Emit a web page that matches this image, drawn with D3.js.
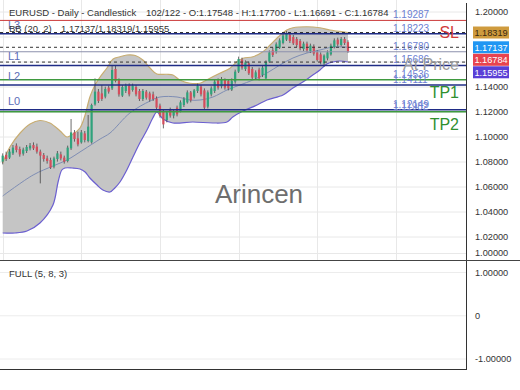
<!DOCTYPE html>
<html>
<head>
<meta charset="utf-8">
<script src="https://cdn.jsdelivr.net/npm/d3@7"></script>
<style>
  body { margin: 0; background: #fff; }
  svg { display: block; font-family: "Liberation Sans", Arial, sans-serif; }
</style>
</head>
<body>
<svg id="chart"></svg>
<script>
// daily EURUSD candles
var opens = [1.0799,1.0852,1.0831,1.0865,1.0927,1.0900,1.0863,1.0884,1.0905,1.0932,
  1.0919,1.0879,1.0852,1.0825,1.0812,1.0759,1.0820,1.0857,1.0831,1.0804,
  1.0905,1.1033,1.0985,1.0953,1.1025,1.0964,1.0953,1.1257,1.1359,1.1345,
  1.1319,1.1391,1.1385,1.1540,1.1452,1.1327,1.1364,1.1407,1.1372,1.1396,
  1.1364,1.1300,1.1359,1.1345,1.1337,1.1305,1.1247,1.1204,1.1132,1.1212,
  1.1167,1.1231,1.1204,1.1252,1.1273,1.1353,1.1319,1.1364,1.1399,1.1369,
  1.1239,1.1337,1.1364,1.1449,1.1401,1.1452,1.1444,1.1375,1.1439,1.1519,
  1.1615,1.1540,1.1585,1.1540,1.1471,1.1535,1.1492,1.1465,1.1599,1.1689,
  1.1679,1.1711,1.1748,1.1775,1.1812,1.1796,1.1780,1.1764,1.1700,1.1743,
  1.1684,1.1721,1.1673,1.1657,1.1585,1.1625,1.1657,1.1716,1.1775,1.1732,
  1.1780,1.17548];
var highs = [1.0865,1.0879,1.0900,1.0932,1.0945,1.0919,1.0911,1.0932,1.0948,1.0953,
  1.0943,1.0895,1.0868,1.0847,1.0831,1.0839,1.0884,1.0879,1.0847,1.0927,
  1.1140,1.1052,1.1039,1.1052,1.1044,1.1172,1.1263,1.1465,1.1380,1.1412,
  1.1399,1.1407,1.1572,1.1572,1.1465,1.1412,1.1423,1.1425,1.1423,1.1412,
  1.1380,1.1380,1.1372,1.1359,1.1359,1.1321,1.1263,1.1220,1.1204,1.1231,
  1.1220,1.1247,1.1289,1.1316,1.1369,1.1364,1.1380,1.1423,1.1412,1.1385,
  1.1369,1.1401,1.1455,1.1465,1.1476,1.1465,1.1460,1.1465,1.1535,1.1639,
  1.1631,1.1609,1.1599,1.1556,1.1529,1.1551,1.1567,1.1609,1.1689,1.1711,
  1.1753,1.1785,1.1823,1.1844,1.1828,1.1812,1.1796,1.1780,1.1759,1.1759,
  1.1743,1.1737,1.1689,1.1673,1.1657,1.1689,1.1743,1.1785,1.1791,1.1796,
  1.1796,1.17700];
var lows = [1.0777,1.0804,1.0820,1.0852,1.0873,1.0839,1.0847,1.0868,1.0889,1.0892,
  1.0863,1.0625,1.0799,1.0783,1.0740,1.0745,1.0799,1.0809,1.0783,1.0793,
  1.0892,1.0959,1.0921,1.0943,1.0953,1.0953,1.0943,1.1247,1.1268,1.1284,
  1.1305,1.1343,1.1372,1.1433,1.1319,1.1316,1.1348,1.1321,1.1359,1.1321,
  1.1284,1.1284,1.1295,1.1279,1.1284,1.1220,1.1151,1.1065,1.1113,1.1151,
  1.1145,1.1161,1.1193,1.1236,1.1263,1.1273,1.1305,1.1348,1.1321,1.1220,
  1.1225,1.1321,1.1348,1.1375,1.1385,1.1375,1.1369,1.1364,1.1423,1.1508,
  1.1535,1.1524,1.1492,1.1455,1.1455,1.1449,1.1476,1.1455,1.1588,1.1636,
  1.1663,1.1700,1.1737,1.1764,1.1748,1.1732,1.1716,1.1689,1.1684,1.1673,
  1.1668,1.1647,1.1599,1.1577,1.1559,1.1609,1.1647,1.1705,1.1721,1.1721,
  1.1732,1.16691];
var closes = [1.0847,1.0820,1.0879,1.0911,1.0892,1.0857,1.0895,1.0916,1.0927,1.0905,
  1.0879,1.0847,1.0820,1.0804,1.0751,1.0825,1.0865,1.0825,1.0799,1.0911,
  1.1033,1.0980,1.0937,1.1033,1.0972,1.1079,1.1252,1.1359,1.1284,1.1300,
  1.1380,1.1359,1.1532,1.1444,1.1337,1.1396,1.1407,1.1337,1.1407,1.1337,
  1.1300,1.1364,1.1311,1.1295,1.1300,1.1231,1.1167,1.1097,1.1193,1.1167,
  1.1204,1.1177,1.1273,1.1300,1.1353,1.1289,1.1369,1.1407,1.1337,1.1231,
  1.1353,1.1385,1.1439,1.1391,1.1460,1.1391,1.1385,1.1444,1.1519,1.1620,
  1.1551,1.1593,1.1505,1.1471,1.1513,1.1465,1.1551,1.1593,1.1673,1.1652,
  1.1737,1.1769,1.1807,1.1823,1.1764,1.1745,1.1732,1.1705,1.1743,1.1689,
  1.1727,1.1663,1.1612,1.1593,1.1647,1.1673,1.1727,1.1769,1.1737,1.1780,
  1.1748,1.16784];

// Bollinger band (20, 2) traced as [bar index, price]
var bbUpper = [[0,1.0788],[2.1,1.0916],[5.1,1.1028],[8,1.1100],[10.9,1.1128],[13.8,1.1108],
  [16.8,1.1044],[18.8,1.0996],[20.6,1.1020],[22.6,1.1068],[24.1,1.1172],[25.5,1.1316],
  [27,1.1412],[28.5,1.1476],[30.5,1.1548],[32.3,1.1620],[34.3,1.1638],[36.3,1.1652],
  [38.8,1.1648],[41,1.1612],[43.1,1.1548],[45.1,1.1500],[48,1.1498],[49.8,1.1492],
  [51.8,1.1452],[54.8,1.1426],[57.7,1.1426],[60.6,1.1466],[63.5,1.1506],[66.5,1.1546],
  [68.5,1.1598],[70.3,1.1626],[73.2,1.1638],[76.1,1.1678],[78.2,1.1732],[80.2,1.1786],
  [83.1,1.1852],[84.9,1.1870],[88.9,1.1878],[92.8,1.1870],[95.7,1.1852],[97.7,1.1844],
  [101,1.1832]];
var bbMiddle = [[0,1.0524],[8.9,1.0692],[14.7,1.0764],[18.8,1.0812],[23.5,1.0892],[28.5,1.0980],
  [31.4,1.1028],[37.2,1.1188],[43.1,1.1284],[46,1.1316],[51,1.1316],[54.8,1.1292],
  [57.7,1.1292],[61.5,1.1316],[65.6,1.1372],[69.4,1.1412],[73.2,1.1452],[77.3,1.1508],
  [81.1,1.1572],[84.9,1.1628],[89,1.1668],[92.8,1.1692],[96.6,1.1716],[101,1.1714]];
var bbLower = [[0,1.0228],[3.6,1.0228],[7.1,1.0244],[10.9,1.0308],[14.7,1.0452],[16.2,1.0636],
  [17.3,1.0732],[18.2,1.0748],[20.3,1.0748],[22.6,1.0740],[24.1,1.0716],[25.5,1.0668],
  [27.6,1.0612],[29.3,1.0572],[31.4,1.0556],[32.8,1.0588],[34.3,1.0636],[36.3,1.0732],
  [38.1,1.0836],[40.1,1.0948],[42.2,1.1052],[43.9,1.1148],[45.1,1.1196],[46.9,1.1140],
  [49.8,1.1108],[55.6,1.1116],[61.5,1.1108],[65.6,1.1116],[67.3,1.1156],[70.3,1.1204],
  [74.4,1.1252],[77.3,1.1292],[82,1.1332],[84.9,1.1388],[87.8,1.1436],[90.7,1.1492],
  [92.8,1.1532],[94.8,1.1580],[96.6,1.1596],[98.6,1.1604],[101,1.1596]];
var bbLast = [1.17137, 1.18319, 1.15955];

// horizontal levels
var levelValues = [1.19287, 1.18223, 1.16780, 1.15686, 1.14536, 1.14111, 1.12149, 1.11982];
var levelTypes  = ["stop", "level", "price", "level", "target", "level", "level", "target"];
var levelLeft   = ["", "L3", "", "L1", "", "L2", "L0", ""];
var levelRight  = ["SL", "", "At Price", "", "TP1", "", "", "TP2"];

var tagValues = [1.18319, 1.17137, 1.16784, 1.15955];
var yGridValues = [1.20, 1.18, 1.16, 1.14, 1.12, 1.10, 1.08, 1.06, 1.04, 1.02, 1.00];
// 1.18 and 1.16 sit under the price tags, so only these labels show
var yTickLabels = [1.20, 1.14, 1.12, 1.10, 1.08, 1.06, 1.04, 1.02, 1.00];
var oscTickValues = [1, 0, -1];
var gridIdx = [0, 23, 46, 69, 92, 115];

var headerText = "EURUSD - Daily - Candlestick";
var infoText = "102/122 - O:1.17548 - H:1.17700 - L:1.16691 - C:1.16784";

var W = 520, H = 390;
var plotRight = 466;
var mainBottom = 260, oscBottom = 369;

var svg = d3.select("#chart").attr("width", W).attr("height", H);

var x = d3.scaleLinear().domain([0, 101]).range([2.7, 348]);
var y = d3.scaleLinear().domain([1.0, 1.2]).range([261.5, 11.5]);
var yOsc = d3.scaleLinear().domain([-1, 1]).range([358.5, 272]);

var typeColor = { stop: "#cc3b3b", level: "#1f2c86", price: "#8c90ad", target: "#3f9a3f" };
var rightColor = { stop: "#d23a3a", price: "#9a9a9a", target: "#2f8f2f" };

var main = svg.append("g");
main.append("defs").append("clipPath").attr("id", "clipMain")
  .append("rect").attr("x", 0).attr("y", 0).attr("width", plotRight).attr("height", mainBottom);

// grid
var grid = main.append("g").attr("stroke", "#e8e8e8").attr("stroke-width", 1);
grid.selectAll("line.h").data(yGridValues).enter().append("line")
  .attr("x1", 0).attr("x2", plotRight)
  .attr("y1", function(d) { return Math.min(y(d), 253) + 0.5; })
  .attr("y2", function(d) { return Math.min(y(d), 253) + 0.5; });
grid.selectAll("line.v").data(gridIdx).enter().append("line")
  .attr("x1", function(d) { return Math.round(x(d)) + 0.5; })
  .attr("x2", function(d) { return Math.round(x(d)) + 0.5; })
  .attr("y1", 0).attr("y2", mainBottom);

// watermark
main.append("text").attr("x", 259).attr("y", 203).attr("text-anchor", "middle")
  .attr("font-size", 26).attr("fill", "#6e6e6e").text("Arincen");

var plot = main.append("g").attr("clip-path", "url(#clipMain)");

// bollinger band
var bandLine = d3.line()
  .x(function(d) { return x(d[0]); })
  .y(function(d) { return y(d[1]); })
  .curve(d3.curveCatmullRom.alpha(0.5));
var fillPath = bandLine(bbUpper) + "L" + bandLine(bbLower.slice().reverse()).slice(1) + "Z";
plot.append("path").attr("d", fillPath).attr("fill", "#c2c2c2").attr("fill-opacity", 0.95);
plot.append("path").attr("d", bandLine(bbUpper)).attr("fill", "none")
  .attr("stroke", "#c8ad72").attr("stroke-width", 1.2);
plot.append("path").attr("d", bandLine(bbLower)).attr("fill", "none")
  .attr("stroke", "#6b5fd0").attr("stroke-width", 1.2);
plot.append("path").attr("d", bandLine(bbMiddle)).attr("fill", "none")
  .attr("stroke", "#7e8db4").attr("stroke-width", 1);

// candles
var candles = plot.selectAll("g.candle").data(d3.range(opens.length)).enter()
  .append("g").attr("class", "candle");
candles.append("line")
  .attr("x1", function(i) { return x(i); }).attr("x2", function(i) { return x(i); })
  .attr("y1", function(i) { return y(highs[i]); })
  .attr("y2", function(i) { return y(lows[i]); })
  .attr("stroke", "#454545").attr("stroke-width", 0.8);
candles.append("rect")
  .attr("x", function(i) { return x(i) - 1.1; })
  .attr("width", 2.2)
  .attr("y", function(i) { return y(Math.max(opens[i], closes[i])); })
  .attr("height", function(i) { return Math.max(1, Math.abs(y(opens[i]) - y(closes[i]))); })
  .attr("fill", function(i) { return closes[i] >= opens[i] ? "#2fa37c" : "#d44d5c"; });

// level lines
plot.selectAll("line.level").data(levelValues).enter().append("line")
  .attr("x1", 0).attr("x2", plotRight)
  .attr("y1", function(d) { return y(d); }).attr("y2", function(d) { return y(d); })
  .attr("stroke", function(d, i) { return typeColor[levelTypes[i]]; })
  .attr("stroke-width", function(d, i) {
    var t = levelTypes[i];
    return (t == "price" || t == "stop") ? 1 : 1.5;
  });

plot.selectAll("line.bb").data(bbLast).enter().append("line")
  .attr("x1", 0).attr("x2", plotRight)
  .attr("y1", function(d) { return y(d); }).attr("y2", function(d) { return y(d); })
  .attr("stroke", "#333").attr("stroke-width", 1).attr("stroke-dasharray", "3,3");

// level value labels
main.selectAll("text.lv").data(levelValues).enter().append("text")
  .attr("x", 393).attr("y", function(d) { return y(d) - 2; })
  .attr("font-size", 10).attr("fill", "#6c80d2")
  .text(function(d) { return d.toFixed(5); });

main.selectAll("text.ll").data(levelValues).enter().append("text")
  .attr("x", 8).attr("y", function(d) { return y(d) - 5; })
  .attr("font-size", 11).attr("fill", "#5b6cb8")
  .text(function(d, i) { return levelLeft[i]; });

main.selectAll("text.lr").data(levelValues).enter().append("text")
  .attr("x", 459).attr("y", function(d) { return y(d) + 18; })
  .attr("text-anchor", "end").attr("font-size", 16)
  .attr("fill", function(d, i) { return rightColor[levelTypes[i]] || "none"; })
  .text(function(d, i) { return levelRight[i]; });

// header
main.append("text").attr("x", 9).attr("y", 16).attr("font-size", 9.5).attr("fill", "#333").text(headerText);
main.append("text").attr("x", 146).attr("y", 16).attr("font-size", 9.5).attr("fill", "#333").text(infoText);
main.append("text").attr("x", 9).attr("y", 32).attr("font-size", 9.5).attr("fill", "#333").text("BB (20, 2)");
main.append("text").attr("x", 61).attr("y", 32).attr("font-size", 9.5).attr("fill", "#333")
  .text(bbLast.map(function(d) { return d.toFixed(5); }).join("/"));

// right axis
var axis = svg.append("g");
axis.selectAll("text.yt").data(yTickLabels).enter().append("text")
  .attr("x", 475).attr("y", function(d) { return Math.min(y(d), 252) + 3.5; })
  .attr("font-size", 9.2).attr("fill", "#333")
  .text(function(d) { return d.toFixed(5); });

// price tags, pushed down so they do not overlap
var tagColors = ["#cf9b3e", "#2196f3", "#e8434f", "#5a3fd6"];
var tagText = ["#3a2a10", "#fff", "#fff", "#fff"];
var lastBottom = -100;
tagValues.forEach(function(v, i) {
  var top = Math.max(y(v) - 6, lastBottom);
  lastBottom = top + 12.5;
  axis.append("rect").attr("x", 473).attr("y", top).attr("width", 36).attr("height", 12)
    .attr("fill", tagColors[i]);
  axis.append("text").attr("x", 491).attr("y", top + 9.5).attr("text-anchor", "middle")
    .attr("font-size", 9.2).attr("fill", tagText[i]).text(v.toFixed(5));
});

// frames
svg.append("line").attr("x1", plotRight + 0.5).attr("x2", plotRight + 0.5).attr("y1", 3).attr("y2", oscBottom)
  .attr("stroke", "#333").attr("stroke-width", 1);
svg.append("line").attr("x1", 0).attr("x2", W).attr("y1", mainBottom + 0.5).attr("y2", mainBottom + 0.5)
  .attr("stroke", "#444").attr("stroke-width", 1);
svg.append("line").attr("x1", 0).attr("x2", plotRight + 1).attr("y1", oscBottom + 0.5).attr("y2", oscBottom + 0.5)
  .attr("stroke", "#333").attr("stroke-width", 1);

// oscillator panel (empty)
var osc = svg.append("g");
osc.selectAll("line").data(oscTickValues).enter().append("line")
  .attr("x1", 0).attr("x2", plotRight)
  .attr("y1", function(d) { return yOsc(d) + 0.5; }).attr("y2", function(d) { return yOsc(d) + 0.5; })
  .attr("stroke", "#ececec");
osc.selectAll("text").data(oscTickValues).enter().append("text")
  .attr("x", 475).attr("y", function(d) { return yOsc(d) + 3.5; })
  .attr("font-size", 9.2).attr("fill", "#333")
  .text(function(d) { return d == 0 ? "0" : d.toFixed(5); });
osc.append("text").attr("x", 9).attr("y", 277).attr("font-size", 9.5).attr("fill", "#333")
  .text("FULL (5, 8, 3)");
</script>
</body>
</html>
